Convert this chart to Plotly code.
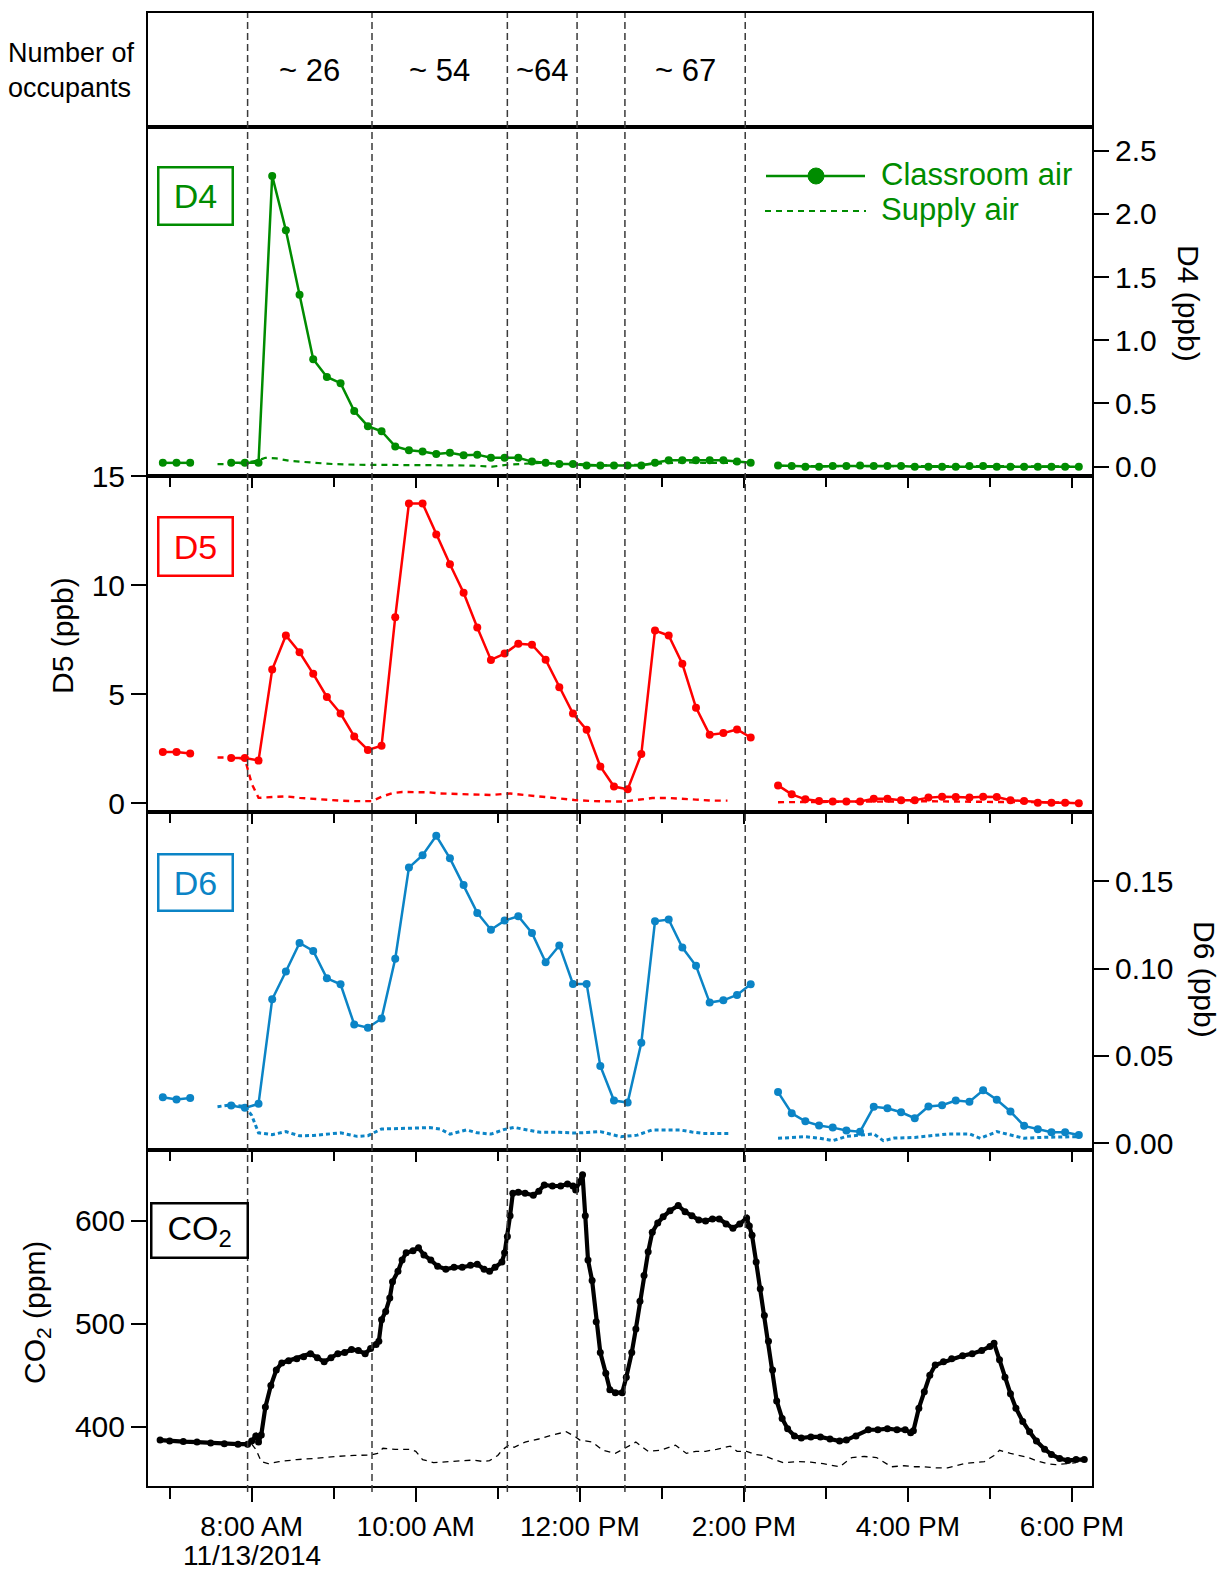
import plotly.graph_objects as go
import pandas as pd

DAY = "2014-11-13 "

# ---------------- data ----------------
# 10-minute GC sampling times (classroom air); None = no sample
sample_times = ["06:55", "07:05", "07:15", "07:25", "07:35", "07:45", "07:55", "08:05", "08:15", "08:25",
                "08:35", "08:45", "08:55", "09:05", "09:15", "09:25", "09:35", "09:45", "09:55", "10:05",
                "10:15", "10:25", "10:35", "10:45", "10:55", "11:05", "11:15", "11:25", "11:35", "11:45",
                "11:55", "12:05", "12:15", "12:25", "12:35", "12:45", "12:55", "13:05", "13:15", "13:25",
                "13:35", "13:45", "13:55", "14:05", "14:15", "14:25", "14:35", "14:45", "14:55", "15:05",
                "15:15", "15:25", "15:35", "15:45", "15:55", "16:05", "16:15", "16:25", "16:35", "16:45",
                "16:55", "17:05", "17:15", "17:25", "17:35", "17:45", "17:55", "18:05"]

d4_classroom = [0.03, 0.03, 0.03, None, None, 0.03, 0.03, 0.03, 2.30, 1.87,
                1.36, 0.85, 0.71, 0.66, 0.44, 0.32, 0.28, 0.16, 0.13, 0.12,
                0.10, 0.11, 0.09, 0.095, 0.07, 0.07, 0.07, 0.04, 0.03, 0.02,
                0.02, 0.01, 0.01, 0.01, 0.01, 0.01, 0.03, 0.05, 0.05, 0.05,
                0.05, 0.05, 0.04, 0.03, None, 0.01, 0.005, 0.0, 0.0, 0.005,
                0.005, 0.01, 0.005, 0.005, 0.005, 0.0, 0.0, 0.0, 0.0, 0.005,
                0.005, 0.0, 0.0, 0.0, 0.0, 0.0, 0.0, 0.0]

d5_classroom = [2.35, 2.35, 2.28, None, None, 2.08, 2.08, 1.96, 6.14, 7.70,
                6.93, 5.94, 4.88, 4.12, 3.07, 2.45, 2.64, 8.54, 13.76, 13.76,
                12.34, 10.97, 9.66, 8.07, 6.58, 6.87, 7.32, 7.28, 6.59, 5.33,
                4.12, 3.37, 1.69, 0.77, 0.64, 2.26, 7.93, 7.70, 6.40, 4.39,
                3.14, 3.22, 3.39, 3.02, None, 0.82, 0.41, 0.18, 0.11, 0.08,
                0.08, 0.08, 0.21, 0.21, 0.14, 0.14, 0.26, 0.30, 0.29, 0.26,
                0.30, 0.29, 0.14, 0.10, 0.03, 0.02, 0.02, 0.0]

d6_classroom = [0.0264, 0.0251, 0.026, None, None, 0.0217, 0.0203, 0.0226, 0.0824, 0.0983,
                0.1146, 0.110, 0.0944, 0.091, 0.068, 0.0661, 0.0714, 0.1056, 0.1577, 0.1648,
                0.1759, 0.163, 0.1477, 0.1318, 0.1222, 0.1274, 0.1299, 0.1203, 0.1036, 0.1132,
                0.0912, 0.0912, 0.0443, 0.0245, 0.0233, 0.0575, 0.127, 0.128, 0.112, 0.1015,
                0.0805, 0.0818, 0.0849, 0.091, None, 0.0293, 0.0172, 0.0126, 0.0102, 0.009,
                0.0073, 0.0067, 0.0209, 0.0201, 0.0178, 0.0144, 0.0211, 0.0218, 0.0245, 0.0238,
                0.0303, 0.0249, 0.0182, 0.010, 0.008, 0.0063, 0.0063, 0.0048]

d4_supply_times = ["07:35", "07:45", "07:55", "08:05", "08:10", "08:18", "08:28", "08:35", "08:45", "09:00",
                   "09:17", "09:30", "09:45", "10:00", "10:15", "10:30", "10:42", "10:56", "11:07", "11:20",
                   "11:31", "11:45", "12:00", "12:15", "12:30", "12:45", "13:00", "13:15", "13:30", "13:45",
                   "13:55", "14:10", "14:25", "14:45", "15:05", "15:25", "15:45", "16:05", "16:25", "16:45",
                   "17:05", "17:25", "17:45", "18:05"]
d4_supply = [0.02, 0.02, 0.03, 0.05, 0.07, 0.065, 0.045, 0.04, 0.03, 0.02,
             0.015, 0.015, 0.012, 0.012, 0.012, 0.01, 0.008, 0.0, 0.015, 0.02,
             0.03, 0.02, 0.02, 0.01, 0.01, 0.015, 0.025, 0.035, 0.03, 0.03,
             0.03, None, 0.005, 0.005, 0.005, 0.005, 0.005, 0.005, 0.004, 0.004,
             0.004, 0.003, 0.003, 0.003]

d5_supply_times = ["07:35", "07:45", "07:55", "08:00", "08:05", "08:15", "08:25", "08:35", "08:45", "08:55",
                   "09:05", "09:15", "09:28", "09:35", "09:43", "09:50", "10:00", "10:10", "10:18", "10:30",
                   "10:42", "10:55", "11:09", "11:20", "11:31", "11:45", "11:56", "12:10", "12:21", "12:32",
                   "12:40", "12:53", "13:05", "13:15", "13:25", "13:37", "13:48", "14:10", "14:25", "14:45",
                   "15:05", "15:25", "15:45", "16:05", "16:25", "16:45", "17:05", "17:25", "17:45", "18:05"]
d5_supply = [2.1, 2.1, 2.05, 0.9, 0.25, 0.3, 0.32, 0.25, 0.2, 0.15,
             0.12, 0.1, 0.1, 0.3, 0.47, 0.52, 0.52, 0.5, 0.45, 0.42,
             0.38, 0.38, 0.45, 0.38, 0.3, 0.22, 0.15, 0.1, 0.08, 0.08,
             0.14, 0.24, 0.24, 0.22, 0.17, 0.12, 0.12, None, 0.05, 0.05,
             0.06, 0.07, 0.08, 0.1, 0.08, 0.05, 0.06, 0.06, 0.05, 0.02]

d6_supply_times = ["07:35", "07:45", "07:55", "08:00", "08:05", "08:15", "08:25", "08:35", "08:45", "08:55",
                   "09:05", "09:17", "09:25", "09:35", "09:45", "10:00", "10:10", "10:18", "10:25", "10:37",
                   "10:45", "10:55", "11:05", "11:12", "11:20", "11:31", "11:45", "11:56", "12:05", "12:15",
                   "12:30", "12:42", "12:53", "13:05", "13:13", "13:22", "13:30", "13:40", "13:50", "14:10",
                   "14:25", "14:35", "14:45", "14:55", "15:05", "15:15", "15:25", "15:35", "15:42", "15:50",
                   "16:05", "16:20", "16:30", "16:45", "16:53", "17:05", "17:15", "17:25", "17:40", "17:55",
                   "18:05"]
d6_supply = [0.021, 0.022, 0.021, 0.016, 0.006, 0.005, 0.0067, 0.0043, 0.0045, 0.0052,
             0.006, 0.004, 0.0044, 0.0082, 0.0085, 0.0091, 0.009, 0.0082, 0.0053, 0.0077,
             0.006, 0.0053, 0.008, 0.0091, 0.008, 0.0063, 0.0063, 0.0059, 0.0062, 0.0067,
             0.0038, 0.0047, 0.0077, 0.0077, 0.0077, 0.0065, 0.0057, 0.0057, 0.0057, None,
             0.0029, 0.0034, 0.0038, 0.0030, 0.0015, 0.0040, 0.0048, 0.0054, 0.0015, 0.0030,
             0.0034, 0.0045, 0.0054, 0.0054, 0.0029, 0.0067, 0.005, 0.0029, 0.0035, 0.0038,
             0.0038]

co2_times = ["06:53", "07:00", "07:10", "07:20", "07:30", "07:40", "07:50", "07:57", "08:00", "08:03",
             "08:05", "08:07", "08:10", "08:14", "08:18", "08:22", "08:27", "08:33", "08:38", "08:43",
             "08:48", "08:53", "08:58", "09:03", "09:08", "09:13", "09:18", "09:23", "09:27", "09:31",
             "09:33", "09:35", "09:38", "09:41", "09:43", "09:47", "09:50", "09:53", "09:58", "10:02",
             "10:06", "10:11", "10:16", "10:22", "10:28", "10:34", "10:40", "10:45", "10:50", "10:54",
             "10:58", "11:03", "11:05", "11:07", "11:09", "11:11", "11:15", "11:20", "11:26", "11:30",
             "11:34", "11:40", "11:46", "11:51", "11:55", "11:57", "12:00", "12:02", "12:04", "12:06",
             "12:09", "12:12", "12:15", "12:19", "12:22", "12:26", "12:31", "12:34", "12:38", "12:41",
             "12:44", "12:47", "12:50", "12:53", "12:57", "13:01", "13:06", "13:12", "13:17", "13:22",
             "13:27", "13:32", "13:37", "13:42", "13:47", "13:52", "13:57", "14:02", "14:04", "14:06",
             "14:09", "14:12", "14:15", "14:18", "14:21", "14:24", "14:28", "14:32", "14:37", "14:42",
             "14:49", "14:56", "15:03", "15:10", "15:15", "15:22", "15:31", "15:38", "15:45", "15:52",
             "15:58", "16:02", "16:04", "16:08", "16:12", "16:16", "16:20", "16:26", "16:32", "16:40",
             "16:47", "16:54", "17:00", "17:03", "17:07", "17:11", "17:15", "17:19", "17:24", "17:29",
             "17:34", "17:40", "17:45", "17:51", "17:57", "18:03", "18:09"]
co2_classroom = [387, 386, 385.5, 385, 384, 383.5, 383, 383, 386, 391,
                 385, 392, 419, 440, 455, 462, 464, 466, 468, 471,
                 467, 463, 467, 471, 472, 475, 474, 471, 476, 480,
                 483, 504, 512, 525, 541, 551, 562, 569, 571, 574,
                 567, 562, 556, 553, 555, 555, 557, 558, 553, 551,
                 555, 560, 569, 585, 605, 627, 628, 627, 625, 629,
                 635, 634, 634, 636, 634, 630, 638, 645, 605, 562,
                 542, 502, 472, 452, 436, 433, 433, 448, 472, 495,
                 522, 547, 570, 589, 598, 604, 610, 615, 609, 605,
                 601, 600, 602, 602, 597, 593, 597, 603, 595, 586,
                 560, 534, 508, 483, 455, 425, 408, 398, 391, 389,
                 390, 390, 388, 386, 387, 391, 397, 397, 398, 397,
                 397, 394, 396, 418, 434, 450, 460, 463, 466, 469,
                 471, 474, 478, 481, 465, 448, 432, 418, 405, 395,
                 386, 378, 373, 369, 367, 368, 368]

co2_supply_times = ["08:00", "08:03", "08:07", "08:12", "08:20", "08:33", "08:45", "09:01", "09:15", "09:27",
                    "09:32", "09:36", "09:45", "09:56", "10:00", "10:05", "10:13", "10:25", "10:35", "10:42",
                    "10:50", "10:54", "11:00", "11:03", "11:08", "11:12", "11:20", "11:30", "11:40", "11:50",
                    "11:57", "12:00", "12:09", "12:17", "12:26", "12:34", "12:41", "12:50", "12:59", "13:10",
                    "13:18", "13:25", "13:32", "13:40", "13:50", "13:55", "14:02", "14:08", "14:14", "14:22",
                    "14:29", "14:40", "14:49", "14:58", "15:10", "15:19", "15:28", "15:37", "15:48", "15:57",
                    "16:05", "16:12", "16:20", "16:29", "16:41", "16:48", "16:56", "17:03", "17:07", "17:15",
                    "17:22", "17:28", "17:34", "17:42", "17:48", "17:57", "18:03"]
co2_supply = [383, 378, 366, 364, 366, 368, 369, 371, 372, 372.5,
              374, 379, 378, 378, 376, 368, 365, 366, 367, 367.5,
              366, 367, 372, 377, 382, 380, 385, 388, 392, 395,
              390, 387, 385, 377, 374, 380, 385, 376, 377, 382,
              374, 376, 376, 378, 381, 376, 376, 373, 372, 368,
              365, 366, 365.5, 364, 361, 370, 371, 370, 361, 362,
              361, 361, 360, 360, 364, 365, 366, 372, 377, 374,
              372, 370, 367, 364, 363, 364, 365]

# occupancy periods (vertical dashed boundaries) and labels
period_bounds = ["07:57", "09:28", "11:07", "11:58", "12:33", "14:01"]
occ_start = ["07:57", "09:28", "11:07", "12:33"]
occ_end = ["09:28", "11:07", "11:58", "14:01"]
occ_labels = ["~ 26", "~ 54", "~64", "~ 67"]

# axis ticks
hour_major = ["08:00", "10:00", "12:00", "14:00", "16:00", "18:00"]
hour_major_text = ["8:00 AM", "10:00 AM", "12:00 PM", "2:00 PM", "4:00 PM", "6:00 PM"]
hour_minor = ["07:00", "09:00", "11:00", "13:00", "15:00", "17:00"]
date_label = "11/13/2014"
x_limits = ["06:44:09", "18:14:39"]

d4_ticks = [0, 0.5, 1.0, 1.5, 2.0, 2.5]
d5_ticks = [0, 5, 10, 15]
d6_ticks = [0, 0.05, 0.10, 0.15]
co2_ticks = [400, 500, 600]


def T(hhmm):
    return DAY + hhmm


def TL(lst):
    return [T(h) for h in lst]


# ---------------- styling ----------------
GREEN = "#008C00"
RED = "#FF0000"
BLUE = "#0B84C6"
BLACK = "#000000"
FONT = "Liberation Sans, Arial, sans-serif"

W, H = 1228, 1570
PL, PR, PT, PB = 148, 1092, 13, 1486   # plot area on the page


def px(xp):
    return (xp - PL) / float(PR - PL)


def py(yp):
    return (PB - yp) / float(PB - PT)


fig = go.Figure()

# placeholder traces to instantiate the occupancy panel and CO2 top-tick axis
fig.add_trace(go.Scatter(x=[], y=[], xaxis="x", yaxis="y", showlegend=False))
fig.add_trace(go.Scatter(x=[], y=[], xaxis="x6", yaxis="y5", showlegend=False))

panels = [
    ("x2", "y2", d4_classroom, d4_supply_times, d4_supply, GREEN, "6px,5px", 2.2),
    ("x3", "y3", d5_classroom, d5_supply_times, d5_supply, RED, "6px,5px", 2.4),
    ("x4", "y4", d6_classroom, d6_supply_times, d6_supply, BLUE, "4px,3px", 3.0),
]
for xa, ya, room, st, sup, col, dash, sw in panels:
    fig.add_trace(go.Scatter(x=TL(st), y=sup, xaxis=xa, yaxis=ya, mode="lines",
                             line=dict(color=col, width=sw, dash=dash), showlegend=False,
                             connectgaps=False, name="Supply air"))
    fig.add_trace(go.Scatter(x=TL(sample_times), y=room, xaxis=xa, yaxis=ya, mode="lines+markers",
                             line=dict(color=col, width=2.5), marker=dict(color=col, size=8),
                             showlegend=False, connectgaps=False, name="Classroom air"))

fig.add_trace(go.Scatter(x=TL(co2_supply_times), y=co2_supply, xaxis="x5", yaxis="y5", mode="lines",
                         line=dict(color=BLACK, width=1.3, dash="6px,5px"), showlegend=False))
fig.add_trace(go.Scatter(x=TL(co2_times), y=co2_classroom, xaxis="x5", yaxis="y5", mode="lines+markers",
                         line=dict(color=BLACK, width=4.2), marker=dict(color=BLACK, size=7),
                         showlegend=False))

# ---------------- axes ----------------
dom = {
    "y": [py(127), 1.0],
    "y2": [py(476), py(127)],
    "y3": [py(812), py(476)],
    "y4": [py(1150), py(812)],
    "y5": [0.0, py(1150)],
}
xbase = dict(type="date", range=TL(x_limits), showgrid=False, zeroline=False, showline=True,
             linecolor="black", linewidth=2, mirror=True, automargin=False)
ybase = dict(showgrid=False, zeroline=False, showline=True, linecolor="black", linewidth=2,
             mirror=True, tickfont=dict(size=30, family=FONT, color="black"), automargin=False,
             ticks="outside", ticklen=15, tickwidth=2, tickcolor="black")

top_ticks = dict(tickvals=TL(hour_major), ticks="inside", ticklen=12, tickwidth=2, tickcolor="black",
                 showticklabels=False,
                 minor=dict(tickvals=TL(hour_minor), ticks="inside", ticklen=11, tickwidth=2,
                            tickcolor="black"))

fig.update_layout(
    xaxis=dict(**xbase, anchor="y", ticks="", showticklabels=False),
    xaxis2=dict(**xbase, anchor="y2", ticks="", showticklabels=False),
    xaxis3=dict(**xbase, anchor="y3", side="top", **top_ticks),
    xaxis4=dict(**xbase, anchor="y4", side="top", **top_ticks),
    xaxis5=dict(**xbase, anchor="y5", side="bottom", tickvals=TL(hour_major), ticktext=hour_major_text,
                ticks="outside", ticklen=14, tickwidth=2, tickcolor="black",
                tickfont=dict(size=28, family=FONT, color="black"),
                minor=dict(tickvals=TL(hour_minor), ticks="outside", ticklen=11, tickwidth=2,
                           tickcolor="black")),
    xaxis6=dict(type="date", range=TL(x_limits), overlaying="x5", anchor="y5", side="top",
                showgrid=False, zeroline=False, showline=False, automargin=False, **top_ticks),
    yaxis=dict(domain=dom["y"], range=[0, 1], anchor="x", showgrid=False, zeroline=False,
               showline=True, linecolor="black", linewidth=2, mirror=True, ticks="",
               showticklabels=False, automargin=False),
    yaxis2=dict(**ybase, domain=dom["y2"], anchor="x2", side="right", range=[-0.074, 2.687],
                tickvals=d4_ticks, tickformat=".1f"),
    yaxis3=dict(**ybase, domain=dom["y3"], anchor="x3", side="left", range=[-0.40, 15.02],
                tickvals=d5_ticks),
    yaxis4=dict(**ybase, domain=dom["y4"], anchor="x4", side="right", range=[-0.0038, 0.1895],
                tickvals=d6_ticks, tickformat=".2f"),
    yaxis5=dict(**ybase, domain=dom["y5"], anchor="x5", side="left", range=[342.3, 669],
                tickvals=co2_ticks),
)

# ---------------- shapes ----------------
shapes = []
for b in period_bounds:
    shapes.append(dict(type="line", xref="x5", yref="paper", x0=T(b), x1=T(b), y0=-0.004, y1=1.0,
                       line=dict(color="#3a3a3a", width=1.5, dash="7px,4px"), layer="above"))
# legend samples (D4 panel)
shapes.append(dict(type="line", xref="paper", yref="paper", x0=px(766), x1=px(865), y0=py(176), y1=py(176),
                   line=dict(color=GREEN, width=2.5)))
shapes.append(dict(type="circle", xref="paper", yref="paper", xsizemode="pixel", ysizemode="pixel",
                   xanchor=px(816), yanchor=py(176), x0=-8, x1=8, y0=-8, y1=8,
                   fillcolor=GREEN, line=dict(color=GREEN, width=1)))
shapes.append(dict(type="line", xref="paper", yref="paper", x0=px(765), x1=px(866), y0=py(211), y1=py(211),
                   line=dict(color=GREEN, width=2.2, dash="6px,5px")))
fig.update_layout(shapes=shapes)

# ---------------- annotations ----------------
ann = []
for s, e, lab in zip(occ_start, occ_end, occ_labels):
    mid = pd.Timestamp(T(s)) + (pd.Timestamp(T(e)) - pd.Timestamp(T(s))) / 2
    ann.append(dict(xref="x", yref="y", x=mid, y=0.5, text=lab, showarrow=False,
                    xanchor="center", yanchor="middle",
                    font=dict(size=31, family=FONT, color="black")))
ann.append(dict(xref="paper", yref="y", x=px(137), y=0.5, xanchor="right", yanchor="middle", align="left",
                text="Number of<br>occupants", showarrow=False, font=dict(size=27, family=FONT, color="black")))

# date under the first time label
ann.append(dict(xref="x5", yref="paper", x=T(hour_major[0]), y=py(1555), xanchor="center", yanchor="middle",
                text=date_label, showarrow=False, font=dict(size=28, family=FONT, color="black")))

# panel name boxes
for text, col, xl, yt, w, h in [("D4", GREEN, 157, 166, 72, 55), ("D5", RED, 157, 516, 72, 56),
                                 ("D6", BLUE, 157, 853, 72, 54), ("CO<sub>2</sub>", BLACK, 150, 1202, 94, 52)]:
    ann.append(dict(xref="paper", yref="paper", x=px(xl), y=py(yt), xanchor="left", yanchor="top",
                    text=text, showarrow=False, width=w, height=h, bordercolor=col, borderwidth=2.5,
                    borderpad=0, bgcolor="white", font=dict(size=34, family=FONT, color=col)))

# legend text
ann.append(dict(xref="paper", yref="paper", x=px(879), y=py(175), xanchor="left", yanchor="middle",
                text="Classroom air", showarrow=False, font=dict(size=31, family=FONT, color=GREEN)))
ann.append(dict(xref="paper", yref="paper", x=px(879), y=py(210), xanchor="left", yanchor="middle",
                text="Supply air", showarrow=False, font=dict(size=31, family=FONT, color=GREEN)))

# axis titles
for text, xc, yc, ang in [("D4 (ppb)", 1188, 303, 90), ("D6 (ppb)", 1205, 979, 90),
                          ("D5 (ppb)", 62, 636, -90), ("CO<sub>2</sub> (ppm)", 36, 1313, -90)]:
    ann.append(dict(xref="paper", yref="paper", x=px(xc), y=py(yc), xanchor="center", yanchor="middle",
                    textangle=ang, text=text, showarrow=False,
                    font=dict(size=30, family=FONT, color="black")))
fig.update_layout(annotations=ann)

fig.update_layout(width=W, height=H, margin=dict(l=PL, r=W - PR, t=PT, b=H - PB, autoexpand=False),
                  paper_bgcolor="white", plot_bgcolor="white", showlegend=False,
                  font=dict(family=FONT, color="black", size=28))

fig.write_html("out.html", config={"displayModeBar": False},
               post_script="document.body.style.margin='0px';document.body.style.overflow='hidden';")
